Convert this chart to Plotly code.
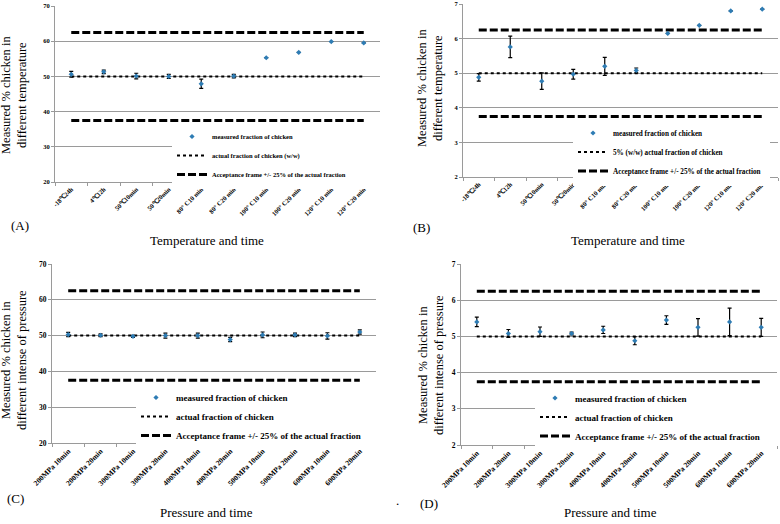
import plotly.graph_objects as go

W, H = 780, 524

# ---------------- data ----------------
temp_labels = ["-18℃24h", "4℃12h", "50℃10min", "50℃20min", "80° C10 min", "80° C20 min",
               "100° C10 min", "100° C20 min", "120° C10 min", "120° C20 min"]
pressure_labels = ["200MPa 10min", "200MPa 20min", "300MPa 10min", "300MPa 20min",
                   "400MPa 10min", "400MPa 20min", "500MPa 10min", "500MPa 20min",
                   "600MPa 10min", "600MPa 20min"]

# (A) 50% chicken, temperature treatments
a_measured = [50.6, 51.3, 50.1, 50.0, 47.9, 50.1, 55.3, 56.8, 59.9, 59.5]
a_err = [0.8, 0.5, 0.8, 0.6, 1.3, 0.5, 0.0, 0.0, 0.0, 0.0]
a_actual = 50.0

# (B) 5% chicken, temperature treatments
b_measured = [4.88, 5.76, 4.77, 4.97, 5.20, 5.08, 6.15, 6.38, 6.80, 6.85]
b_err = [0.11, 0.31, 0.24, 0.14, 0.26, 0.07, 0.0, 0.0, 0.0, 0.0]
b_actual = 5.0

# (C) 50% chicken, pressure treatments
c_measured = [50.3, 50.1, 49.8, 50.0, 50.0, 48.9, 50.2, 50.2, 49.9, 51.0]
c_err = [0.6, 0.4, 0.3, 0.7, 0.7, 0.6, 0.8, 0.5, 0.9, 0.6]
c_actual = 50.0

# (D) 5% chicken, pressure treatments
d_measured = [5.40, 5.08, 5.13, 5.08, 5.18, 4.88, 5.45, 5.25, 5.40, 5.25]
d_err = [0.13, 0.11, 0.13, 0.04, 0.10, 0.11, 0.12, 0.24, 0.38, 0.25]
d_actual = 5.0

acceptance = 0.25  # +/- 25 %

FONT = "Liberation Serif"
BLUE = "#2E7CB4"
GRID = "#9a9a9a"
NB = "\u00a0"


def px_x(p):
    return p / W


def px_y(p):
    return 1 - p / H


fig = go.Figure()

panels = [
    dict(ax="", labels=temp_labels, meas=a_measured, err=a_err, act=a_actual, yr=[20, 70], dt=10,
         xp=(55, 380), yp=(6, 182), leg="legend", pad=22,
         names=("measured fraction of chicken", "actual fraction of chicken (w/w)",
                "Acceptance frame +/- 25% of the actual fraction"), tf=6.5, yf=6.5),
    dict(ax="2", labels=temp_labels, meas=b_measured, err=b_err, act=b_actual, yr=[2, 7], dt=1,
         xp=(463, 778), yp=(4, 177), leg="legend2", pad=2,
         names=("measured fraction of chicken", "5% (w/w) actual fraction of chicken",
                "Acceptance frame +/- 25% of the actual fraction"), tf=6.5, yf=6.5),
    dict(ax="3", labels=pressure_labels, meas=c_measured, err=c_err, act=c_actual, yr=[20, 70], dt=10,
         xp=(52, 376), yp=(264, 443), leg="legend3", pad=10,
         names=("measured fraction of chicken", "actual fraction of chicken",
                "Acceptance frame +/- 25% of the actual fraction"), tf=7.5, yf=7.5),
    dict(ax="4", labels=pressure_labels, meas=d_measured, err=d_err, act=d_actual, yr=[2, 7], dt=1,
         xp=(461, 777), yp=(264, 445), leg="legend4", pad=5,
         names=("measured fraction of chicken", "actual fraction of chicken",
                "Acceptance frame +/- 25% of the actual fraction"), tf=7.5, yf=7.5),
]

layout_axes = {}
for p in panels:
    xa = "x" + p["ax"]
    ya = "y" + p["ax"]
    cats = p["labels"]
    up = p["act"] * (1 + acceptance)
    lo = p["act"] * (1 - acceptance)
    # acceptance frame (dashed)
    fig.add_trace(go.Scatter(
        x=cats + [None] + cats, y=[up] * len(cats) + [None] + [lo] * len(cats),
        mode="lines", line=dict(color="black", width=3, dash="8px,3px"),
        name=p["names"][2] + NB * p["pad"], legend=p["leg"], legendgroup=p["leg"] + "c",
        xaxis=xa, yaxis=ya, hoverinfo="skip", connectgaps=False, legendrank=3))
    # actual fraction (dotted)
    fig.add_trace(go.Scatter(
        x=cats, y=[p["act"]] * len(cats), mode="lines",
        line=dict(color="black", width=2, dash="dot"),
        name=p["names"][1], legend=p["leg"], legendgroup=p["leg"] + "b",
        xaxis=xa, yaxis=ya, legendrank=2))
    # measured with error bars
    fig.add_trace(go.Scatter(
        x=cats, y=p["meas"], mode="markers",
        marker=dict(color=BLUE, size=4, symbol="diamond"),
        error_y=dict(type="data", array=p["err"], visible=True, color="black",
                     thickness=1.2, width=2),
        name=p["names"][0], legend=p["leg"], legendgroup=p["leg"] + "a",
        xaxis=xa, yaxis=ya, legendrank=1))

    layout_axes["xaxis" + p["ax"]] = dict(
        domain=[px_x(p["xp"][0]), px_x(p["xp"][1])], anchor=ya, type="category",
        range=[-0.5, len(cats) - 0.5], tickson="boundaries", ticks="outside", ticklen=3,
        tickcolor=GRID, showline=True, linecolor=GRID, linewidth=1, showgrid=False,
        tickangle=-45, tickfont=dict(family=FONT, size=p["tf"], color="black", weight="bold"),
        zeroline=False, fixedrange=True)
    layout_axes["yaxis" + p["ax"]] = dict(
        domain=[px_y(p["yp"][1]), px_y(p["yp"][0])], anchor=xa, range=p["yr"], dtick=p["dt"],
        tick0=p["yr"][0], showgrid=True, gridcolor=GRID, gridwidth=1, showline=True,
        linecolor=GRID, linewidth=1, ticks="outside", ticklen=3, tickcolor=GRID,
        tickfont=dict(family=FONT, size=p["yf"], color="black", weight="bold"),
        zeroline=False, fixedrange=True)

fig.update_layout(**layout_axes)


def legend_cfg(xp, yp, size):
    return dict(x=px_x(xp), y=px_y(yp), xanchor="left", yanchor="top", bgcolor="white",
                borderwidth=0, font=dict(family=FONT, size=size, color="black", weight="bold"),
                itemwidth=30, traceorder="grouped", tracegroupgap=0)


fig.update_layout(
    legend=legend_cfg(172, 122, 6.5),
    legend2=legend_cfg(573, 118.5, 7.2),
    legend3=legend_cfg(136, 383, 9),
    legend4=legend_cfg(535, 383.5, 9),
)

ann = []


def add_text(text, xp, yp, size, angle=0):
    ann.append(dict(text=text, x=px_x(xp), y=px_y(yp), xref="paper", yref="paper",
                    showarrow=False, textangle=angle, xanchor="center", yanchor="middle",
                    font=dict(family=FONT, size=size, color="black")))


ytitle_t = "Measured % chicken in<br>different temperature"
ytitle_p = "Measured % chicken in<br>different intense of pressure"
add_text(ytitle_t, 14, 95, 12.5, -90)
add_text(ytitle_t, 430, 88, 12.5, -90)
add_text(ytitle_p, 14, 360, 12.5, -90)
add_text(ytitle_p, 431, 365, 12.5, -90)
add_text("Temperature and time", 207, 241, 13)
add_text("Temperature and time", 628, 240, 13)
add_text("Pressure and time", 206, 512, 13)
add_text("Pressure and time", 610, 512, 13)
add_text("(A)", 20, 225, 13)
add_text("(B)", 421, 228, 13)
add_text("(C)", 15, 498, 13)
add_text("(D)", 429, 503, 13)
add_text(".", 397, 500, 13)

fig.update_layout(
    annotations=ann, width=W, height=H, margin=dict(l=0, r=0, t=0, b=0, autoexpand=False),
    paper_bgcolor="white", plot_bgcolor="white", showlegend=True,
    font=dict(family=FONT, color="black"),
)

fig.write_html("out.html", config={"displayModeBar": False},
               post_script="document.body.style.margin='0';document.body.style.overflow='hidden';")
